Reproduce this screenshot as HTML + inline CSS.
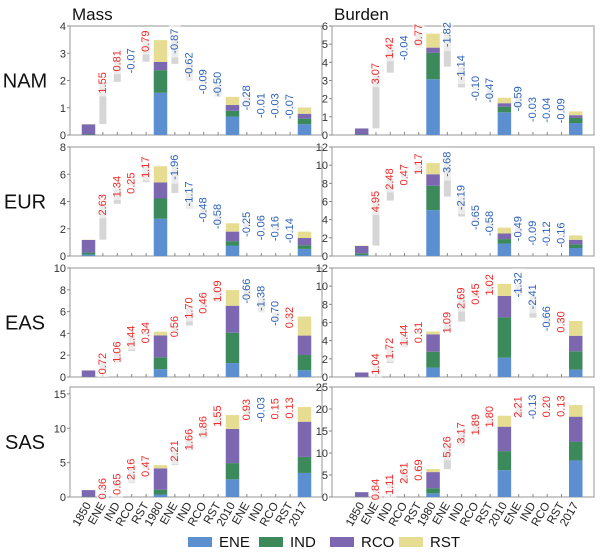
<!DOCTYPE html>
<html><head><meta charset="utf-8"><style>
html,body{margin:0;padding:0;background:#fff;}
svg{display:block;font-family:"Liberation Sans",sans-serif;}
</style></head><body>
<svg id="chart" width="600" height="553" viewBox="0 0 600 553"></svg>
<script>
const categories = ["1850","ENE","IND","RCO","RST","1980","ENE","IND","RCO","RST","2010","ENE","IND","RCO","RST","2017"];
const sectors = ["ENE","IND","RCO","RST"];
const regions = ["NAM","EUR","EAS","SAS"];
const columnTitles = ["Mass","Burden"];
// 1850 stacked components [ENE, IND, RCO, RST]
const base1850Mass = [[0.00,0.02,0.37,0.01],[0.10,0.15,0.93,0.02],[0.00,0.02,0.58,0.00],[0.00,0.05,0.95,0.00]];
const base1850Burden = [[0.00,0.03,0.33,0.00],[0.10,0.20,0.80,0.05],[0.00,0.02,0.48,0.00],[0.00,0.05,1.05,0.00]];
// Changes 1850->1980, 1980->2010, 2010->2017 per sector
const deltasMass = [
 [[1.55,0.81,-0.07,0.79],[-0.87,-0.62,-0.09,-0.50],[-0.28,-0.01,-0.03,-0.07]],
 [[2.63,1.34,0.25,1.17],[-1.96,-1.17,-0.48,-0.58],[-0.25,-0.06,-0.16,-0.14]],
 [[0.72,1.06,1.44,0.34],[0.56,1.70,0.46,1.09],[-0.66,-1.38,-0.70,0.32]],
 [[0.36,0.65,2.16,0.47],[2.21,1.66,1.86,1.55],[0.93,-0.03,0.15,0.13]]
];
const deltasBurden = [
 [[3.07,1.42,-0.04,0.77],[-1.82,-1.14,-0.10,-0.47],[-0.59,-0.03,-0.04,-0.09]],
 [[4.95,2.48,0.47,1.17],[-3.68,-2.19,-0.65,-0.58],[-0.49,-0.09,-0.12,-0.16]],
 [[1.04,1.72,1.44,0.31],[1.09,2.69,0.45,1.02],[-1.32,-2.41,-0.66,0.30]],
 [[0.84,1.11,2.61,0.69],[5.26,3.17,1.89,1.80],[2.21,-0.13,0.20,0.13]]
];
const yMaxMass = [4,8,10,16];
const yMaxBurden = [6,12,12,25];
const yTicksMass = [[0,1,2,3,4],[0,2,4,6,8],[0,2,4,6,8,10],[0,5,10,15]];
const yTicksBurden = [[0,1,2,3,4,5,6],[0,2,4,6,8,10,12],[0,2,4,6,8,10,12],[0,5,10,15,20,25]];

const colors = {ENE:"#5b8fd0",IND:"#3c8a5c",RCO:"#7b68b0",RST:"#e6dc92"};
const NS="http://www.w3.org/2000/svg";
const svg=document.getElementById('chart');
function mk(tag,attrs,parent){const e=document.createElementNS(NS,tag);for(const k in attrs)e.setAttribute(k,attrs[k]);(parent||svg).appendChild(e);return e;}

const cols=[{left:70,right:322,x0:88.5,step:14.4},{left:332,right:594,x0:361.7,step:14.27}];
const rows=[{top:26,bottom:135},{top:147,bottom:256},{top:268,bottom:377},{top:387,bottom:497}];

columnTitles.forEach((t,ci)=>{
  const e=mk('text',{x:cols[ci].left+2,y:20,'font-size':17,fill:'#111'});
  e.textContent=t;
  
  
});
regions.forEach((r,ri)=>{
  const e=mk('text',{x:25,y:(rows[ri].top+rows[ri].bottom)/2+7,'font-size':20,fill:'#111','text-anchor':'middle'});
  e.textContent=r;
  
  
});

function drawPanel(ci,ri,base,deltas,yMax,ticks,kind){
  const c=cols[ci], rw=rows[ri];
  const g=mk('g',{});
  
  
  const y=v=>rw.bottom-(v/yMax)*(rw.bottom-rw.top);
  const x=i=>c.x0+i*c.step;
  // frame
  const fr=mk('rect',{x:c.left,y:rw.top,width:c.right-c.left,height:rw.bottom-rw.top,fill:'none',stroke:'#a8a8a8','stroke-width':1.2},g);
  
  
  ticks.forEach(t=>{
    mk('line',{x1:c.left-3,x2:c.left,y1:y(t),y2:y(t),stroke:'#888'},g);
    const tl=mk('text',{x:c.left-4,y:y(t)+4,'font-size':11,fill:'#333','text-anchor':'end'},g);
    tl.textContent=t;
    
    
  });
  categories.forEach((cat,i)=>{mk('line',{x1:x(i),x2:x(i),y1:rw.bottom,y2:rw.bottom-3,stroke:'#888'},g);});
  // stacks
  const stacks=[base.slice()];
  deltas.forEach(d=>{const p=stacks[stacks.length-1];stacks.push(p.map((v,k)=>v+d[k]));});
  const bw=13.5, gw=7;
  stacks.forEach((s,si)=>{
    let cum=0; const ix=si*5;
    s.forEach((v,k)=>{
      const b=mk('rect',{x:x(ix)-bw/2,y:y(cum+v),width:bw,height:Math.max(0,y(cum)-y(cum+v)),fill:colors[sectors[k]]},g);
      
      
      cum+=v;
    });
  });
  // waterfall deltas
  deltas.forEach((d,p)=>{
    let cum=stacks[p].reduce((a,b)=>a+b,0);
    d.forEach((v,k)=>{
      const ix=p*5+1+k;
      const a=cum,b=cum+v; cum=b;
      const hi=Math.max(a,b), lo=Math.min(a,b);
      const gr=mk('rect',{x:x(ix)-gw/2,y:y(hi),width:gw,height:y(lo)-y(hi),fill:'#d6d6d6'},g);
      
      
      const label=v.toFixed(2);
      const cy=y(hi)+1;
      const bgh=label.length*6.2+2;
      mk('rect',{x:x(ix)-6,y:cy-bgh/2,width:12,height:bgh,fill:'#fff','fill-opacity':0.55},g);
      const t=mk('text',{x:x(ix),y:cy,'font-size':11,fill:v>=0?'#f02a2a':'#2d62b8','text-anchor':'middle','dominant-baseline':'central',transform:'rotate(-90 '+x(ix)+' '+cy+')'},g);
      t.textContent=label;
      
      
    });
  });
  if(ri===3){
    categories.forEach((cat,i)=>{
      const tx=x(i)+3, ty=rw.bottom+8;
      const t=mk('text',{x:tx,y:ty,'font-size':11.5,fill:'#222','text-anchor':'end',transform:'rotate(-60 '+tx+' '+ty+')'},g);
      t.textContent=cat;
      
      
    });
  }
}
regions.forEach((r,ri)=>{
  drawPanel(0,ri,base1850Mass[ri],deltasMass[ri],yMaxMass[ri],yTicksMass[ri],'mass');
  drawPanel(1,ri,base1850Burden[ri],deltasBurden[ri],yMaxBurden[ri],yTicksBurden[ri],'burden');
});
// legend
const lg=mk('g',{});


const legX=[188,259,330,399];
sectors.forEach((s,i)=>{
  const b=mk('rect',{x:legX[i],y:537,width:24,height:10,fill:colors[s]},lg);
  
  
  const t=mk('text',{x:legX[i]+31,y:547,'font-size':15,fill:'#111'},lg);
  t.textContent=s;
  
  
});
</script>
</body></html>
